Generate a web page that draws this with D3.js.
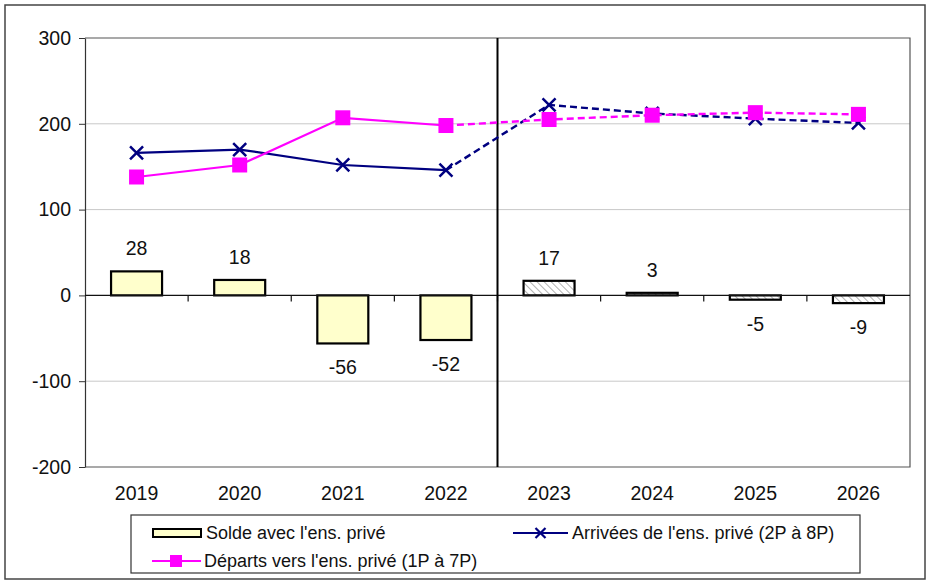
<!DOCTYPE html>
<html><head><meta charset="utf-8">
<script src="https://cdn.jsdelivr.net/npm/d3@7"></script>
<style>body{margin:0;background:#fff}svg{display:block;font-family:"Liberation Sans",Arial,sans-serif}</style>
</head><body><svg id="c" width="928" height="581"></svg>
<script>
const years = ["2019","2020","2021","2022","2023","2024","2025","2026"];
const solde = [28, 18, -56, -52, 17, 3, -5, -9];
const arrivees = [166, 170, 152, 146, 222, 212, 206, 201];
const departs = [138, 152, 207, 198, 205, 210, 213, 211];
const yTicks = [-200, -100, 0, 100, 200, 300];
const projStart = 4; // index of first projected year
const legendLabels = ["Solde avec l'ens. privé", "Arrivées de l'ens. privé (2P à 8P)", "Départs vers l'ens. privé (1P à 7P)"];

const svg = d3.select("#c");
const L = 85, R = 910, T = 38, B = 467;
const FS = 19.5;
const x = d3.scaleBand().domain(years).range([L, R]).paddingInner(0).paddingOuter(0);
const y = d3.scaleLinear().domain([-200, 300]).range([B, T]);
const cx = d => x(d) + x.bandwidth() / 2;

const defs = svg.append("defs");
const pat = defs.append("pattern").attr("id", "hatch").attr("patternUnits", "userSpaceOnUse")
  .attr("width", 5).attr("height", 5).attr("patternTransform", "rotate(-45)");
pat.append("rect").attr("width", 5).attr("height", 5).attr("fill", "#fff");
pat.append("line").attr("x1", 0).attr("y1", 0).attr("x2", 0).attr("y2", 5).attr("stroke", "#999").attr("stroke-width", 1.5);

// outer frame
svg.append("rect").attr("x", 5).attr("y", 5).attr("width", 920).attr("height", 574)
  .attr("fill", "none").attr("stroke", "#444").attr("stroke-width", 1.5);

// gridlines
svg.append("g").selectAll("line").data(yTicks.filter(v => v !== 0 && v !== 300 && v !== -200)).join("line")
  .attr("x1", L).attr("x2", R).attr("y1", d => y(d)).attr("y2", d => y(d))
  .attr("stroke", "#c8c8c8").attr("stroke-width", 1);

// plot box top/right
svg.append("path").attr("d", `M${L},${T}H${R}V${B}H${L}`).attr("fill", "none").attr("stroke", "#555").attr("stroke-width", 1.2);

// y axis
const yAxis = svg.append("g").attr("transform", `translate(${L},0)`)
  .call(d3.axisLeft(y).tickValues(yTicks).tickSize(6).tickPadding(8).tickSizeOuter(0).tickFormat(d => String(d)));
yAxis.select(".domain").attr("stroke", "#333").attr("stroke-width", 1.2);
yAxis.selectAll(".tick line").attr("stroke", "#333");
yAxis.selectAll("text").attr("font-size", FS).attr("fill", "#111").attr("font-family", "Liberation Sans, Arial, sans-serif");

// bars
svg.append("g").selectAll("rect").data(years).join("rect")
  .attr("x", (d) => cx(d) - 25.5)
  .attr("width", 51)
  .attr("y", (d, i) => y(Math.max(0, solde[i])))
  .attr("height", (d, i) => Math.abs(y(solde[i]) - y(0)))
  .attr("fill", (d, i) => i < projStart ? "#ffffcc" : "url(#hatch)")
  .attr("stroke", "#000").attr("stroke-width", 2.2);

// zero axis with ticks below
const xAxis = svg.append("g").attr("transform", `translate(0,${y(0)})`);
xAxis.append("line").attr("x1", L).attr("x2", R).attr("stroke", "#111").attr("stroke-width", 1.2);
xAxis.selectAll(".tk").data(years.slice(1)).join("line").attr("class", "tk")
  .attr("x1", d => x(d)).attr("x2", d => x(d)).attr("y1", 0).attr("y2", 6)
  .attr("stroke", "#111").attr("stroke-width", 1.2);

// category labels
svg.append("g").selectAll("text").data(years).join("text")
  .attr("x", d => cx(d)).attr("y", 500).attr("text-anchor", "middle")
  .attr("font-size", FS).attr("fill", "#111").text(d => d);

// bar value labels
svg.append("g").selectAll("text").data(years).join("text")
  .attr("x", d => cx(d))
  .attr("y", (d, i) => solde[i] >= 0 ? y(solde[i]) - 16 : y(solde[i]) + 31)
  .attr("text-anchor", "middle").attr("font-size", FS).attr("fill", "#111")
  .text((d, i) => String(solde[i]));

// separator
svg.append("line").attr("x1", x(years[projStart])).attr("x2", x(years[projStart]))
  .attr("y1", T).attr("y2", B).attr("stroke", "#000").attr("stroke-width", 2);

// lines
const line = d3.line().x(d => cx(d.k)).y(d => y(d.v));
function drawSeries(vals, color) {
  const pts = years.map((k, i) => ({k, v: vals[i]}));
  svg.append("path").attr("d", line(pts.slice(0, projStart))).attr("fill", "none")
    .attr("stroke", color).attr("stroke-width", 2.2);
  svg.append("path").attr("d", line(pts.slice(projStart - 1))).attr("fill", "none")
    .attr("stroke", color).attr("stroke-width", 2.4).attr("stroke-dasharray", "7,4");
  return pts;
}
const pa = drawSeries(arrivees, "#000080");
const pd = drawSeries(departs, "#ff00ff");

function xMark(g, px, py, s, w) {
  g.append("path").attr("d", `M${px-s},${py-s}L${px+s},${py+s}M${px-s},${py+s}L${px+s},${py-s}`)
    .attr("stroke", "#000080").attr("stroke-width", w).attr("fill", "none");
}
const gm = svg.append("g");
pa.forEach(p => xMark(gm, cx(p.k), y(p.v), 6.5, 2.5));
svg.append("g").selectAll("rect").data(pd).join("rect")
  .attr("x", d => cx(d.k) - 7.5).attr("y", d => y(d.v) - 7.5).attr("width", 15).attr("height", 15)
  .attr("fill", "#ff00ff");

// legend
const LFS = 18;
const lg = svg.append("g");
lg.append("rect").attr("x", 131).attr("y", 515).attr("width", 729).attr("height", 58)
  .attr("fill", "#fff").attr("stroke", "#333").attr("stroke-width", 1.2);
lg.append("rect").attr("x", 153).attr("y", 529).attr("width", 48).attr("height", 8)
  .attr("fill", "#ffffcc").attr("stroke", "#000").attr("stroke-width", 2);
lg.append("text").attr("x", 206).attr("y", 539).attr("font-size", LFS).attr("fill", "#111").text(legendLabels[0]);
lg.append("line").attr("x1", 513).attr("x2", 568).attr("y1", 533).attr("y2", 533).attr("stroke", "#000080").attr("stroke-width", 2.2);
xMark(lg, 540.5, 533, 5, 2.2);
lg.append("text").attr("x", 572).attr("y", 539).attr("font-size", LFS).attr("fill", "#111").text(legendLabels[1]);
lg.append("line").attr("x1", 152).attr("x2", 201).attr("y1", 561).attr("y2", 561).attr("stroke", "#ff00ff").attr("stroke-width", 2.2);
lg.append("rect").attr("x", 170).attr("y", 555).attr("width", 12).attr("height", 12).attr("fill", "#ff00ff");
lg.append("text").attr("x", 204).attr("y", 567).attr("font-size", LFS).attr("fill", "#111").text(legendLabels[2]);
</script></body></html>
